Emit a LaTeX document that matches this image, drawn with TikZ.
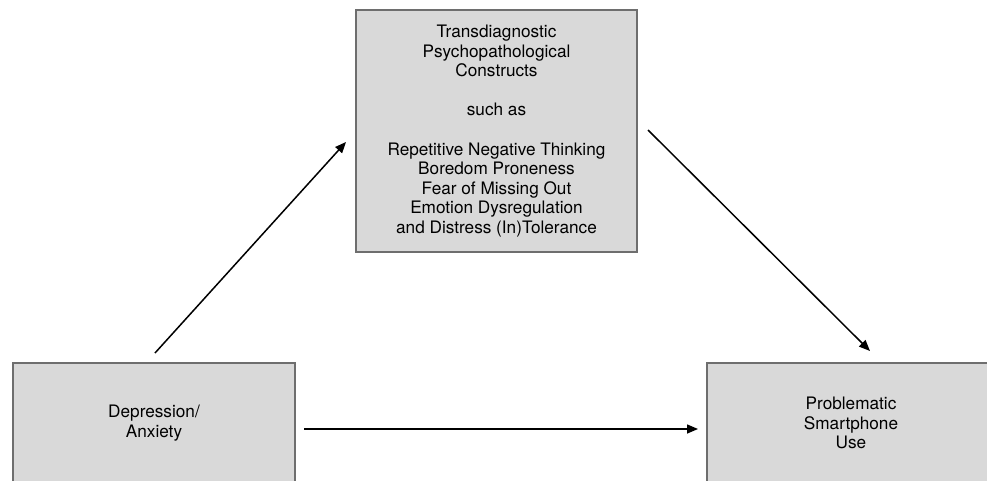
\documentclass[tikz,border=0pt]{standalone}
\usepackage{fontspec}
\setmainfont{TeX Gyre Heros}
\usetikzlibrary{arrows.meta}
\definecolor{boxfill}{HTML}{D9D9D9}
\definecolor{boxline}{HTML}{6E6E6E}
\tikzset{
  box/.style={draw=boxline, fill=boxfill, line width=1.3pt, inner sep=0pt,
    align=center, font=\fontsize{17.2}{19.6}\selectfont, text=black},
  conn/.style={line width=1.5pt, -{Triangle[length=11pt,width=9pt]}}
}
\begin{document}
\begin{tikzpicture}[x=1pt,y=-1pt]
\useasboundingbox (0,0) rectangle (987,481);
\clip (0,0) rectangle (987,481);
\node[box, minimum width=281pt, minimum height=242pt] (trans) at (496.5,131)
  {Transdiagnostic\\Psychopathological\\Constructs\\[19.6pt]such as\\[19.6pt]Repetitive Negative Thinking\\Boredom Proneness\\Fear of Missing Out\\Emotion Dysregulation\\and Distress (In)Tolerance};
\node[box, minimum width=282pt, minimum height=120pt] (dep) at (154,423)
  {Depression/\\Anxiety};
\node[box, minimum width=288pt, minimum height=120pt] (psu) at (851,423)
  {Problematic\\Smartphone\\Use};
\coordinate (a1s) at (155,353);
\coordinate (a1e) at (346,142);
\coordinate (a2s) at (648,130);
\coordinate (a2e) at (870,351);
\coordinate (a3s) at (304,429);
\coordinate (a3e) at (698,429);
\draw[conn] (a1s) -- (a1e);
\draw[conn] (a2s) -- (a2e);
\draw[conn] (a3s) -- (a3e);
\end{tikzpicture}
\end{document}
